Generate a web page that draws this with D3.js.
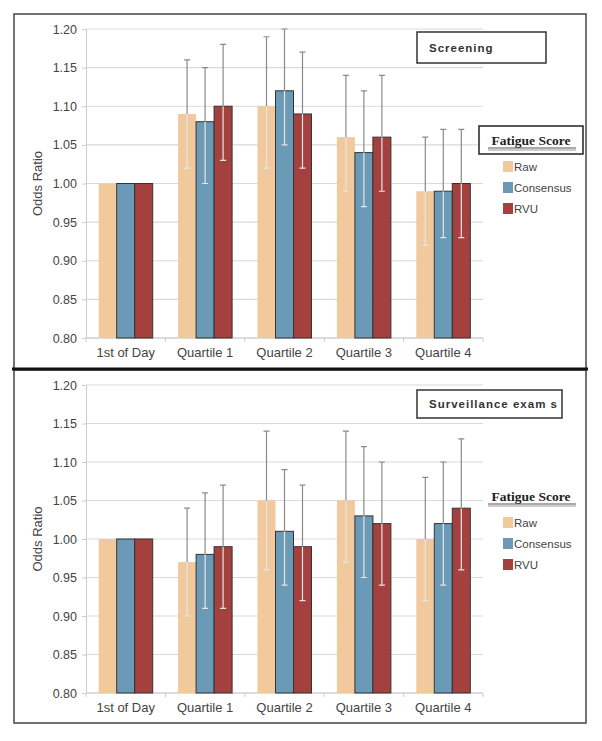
<!DOCTYPE html>
<html>
<head>
<meta charset="utf-8">
<title>Odds ratio by fatigue score</title>
<script src="https://d3js.org/d3.v7.min.js"></script>
<style>
  body { margin: 0; background: #fff; }
  svg { font-family: "Liberation Sans", Arial, sans-serif; }
</style>
</head>
<body>
<svg id="chart" width="602" height="741"></svg>
<script>
// categories and series
var categories = ["1st of Day", "Quartile 1", "Quartile 2", "Quartile 3", "Quartile 4"];
var seriesNames = ["Raw", "Consensus", "RVU"];
var seriesColors = ["#f1c99d", "#6b9ab6", "#a4413f"];
var yTicks = [0.80, 0.85, 0.90, 0.95, 1.00, 1.05, 1.10, 1.15, 1.20];

// Screening panel
var screenRaw = [1.00, 1.09, 1.10, 1.06, 0.99];
var screenRawLo = [null, 1.02, 1.02, 0.99, 0.92];
var screenRawHi = [null, 1.16, 1.19, 1.14, 1.06];
var screenCons = [1.00, 1.08, 1.12, 1.04, 0.99];
var screenConsLo = [null, 1.00, 1.05, 0.97, 0.93];
var screenConsHi = [null, 1.15, 1.20, 1.12, 1.07];
var screenRvu = [1.00, 1.10, 1.09, 1.06, 1.00];
var screenRvuLo = [null, 1.03, 1.02, 0.99, 0.93];
var screenRvuHi = [null, 1.18, 1.17, 1.14, 1.07];

// Surveillance panel
var survRaw = [1.00, 0.97, 1.05, 1.05, 1.00];
var survRawLo = [null, 0.90, 0.96, 0.97, 0.92];
var survRawHi = [null, 1.04, 1.14, 1.14, 1.08];
var survCons = [1.00, 0.98, 1.01, 1.03, 1.02];
var survConsLo = [null, 0.91, 0.94, 0.95, 0.94];
var survConsHi = [null, 1.06, 1.09, 1.12, 1.10];
var survRvu = [1.00, 0.99, 0.99, 1.02, 1.04];
var survRvuLo = [null, 0.91, 0.92, 0.94, 0.96];
var survRvuHi = [null, 1.07, 1.07, 1.10, 1.13];

var svg = d3.select("#chart");

// panel frames
svg.append("rect").attr("x", 14).attr("y", 14).attr("width", 572).attr("height", 355)
  .attr("fill", "none").attr("stroke", "#444").attr("stroke-width", 1.5);
svg.append("rect").attr("x", 14).attr("y", 370).attr("width", 572).attr("height", 353)
  .attr("fill", "none").attr("stroke", "#444").attr("stroke-width", 1.5);
svg.append("line").attr("x1", 12).attr("x2", 588).attr("y1", 369).attr("y2", 369)
  .attr("stroke", "#111").attr("stroke-width", 3);

function drawPanel(opt) {
  var g = svg.append("g");
  var x = d3.scaleBand().domain(categories).range([86, 483]).paddingInner(0.32).paddingOuter(0.16);
  var xs = d3.scaleBand().domain(seriesNames).range([0, x.bandwidth()]);
  var y = d3.scaleLinear().domain([0.80, 1.20]).range([opt.bottom, opt.top]);

  // gridlines
  g.selectAll(".grid").data(yTicks).join("line")
    .attr("x1", 86).attr("x2", 483)
    .attr("y1", d => y(d)).attr("y2", d => y(d))
    .attr("stroke", "#d9d9d9").attr("stroke-width", 1.2);

  // y axis
  var yAxis = g.append("g").attr("transform", "translate(86,0)")
    .call(d3.axisLeft(y).tickValues(yTicks).tickFormat(d3.format(".2f")).tickSize(4).tickPadding(5));
  yAxis.select(".domain").attr("stroke", "#ccc");
  yAxis.selectAll(".tick line").attr("stroke", "#ccc");
  yAxis.selectAll(".tick text").attr("fill", "#444").style("font-size", "12.5px");

  // x axis
  var bounds = d3.range(categories.length + 1).map(i => 86 + i * (397 / categories.length));
  g.append("line").attr("x1", 86).attr("x2", 483).attr("y1", opt.bottom).attr("y2", opt.bottom)
    .attr("stroke", "#ccc");
  g.selectAll(".xt").data(bounds).join("line")
    .attr("x1", d => d).attr("x2", d => d).attr("y1", opt.bottom).attr("y2", opt.bottom + 4)
    .attr("stroke", "#ccc");
  g.selectAll(".xl").data(categories).join("text")
    .attr("x", d => x(d) + x.bandwidth() / 2).attr("y", opt.bottom + 19)
    .attr("text-anchor", "middle").attr("fill", "#444").style("font-size", "13px")
    .text(d => d);

  g.append("text")
    .attr("transform", "translate(42," + ((opt.top + opt.bottom) / 2) + ") rotate(-90)")
    .attr("text-anchor", "middle").attr("fill", "#444").style("font-size", "13px")
    .text("Odds Ratio");

  // bars
  opt.series.forEach(function (s, si) {
    var rows = categories.map((c, i) => ({ c: c, v: s.v[i], lo: s.lo[i], hi: s.hi[i] }));
    g.selectAll(".bar" + si).data(rows).join("rect")
      .attr("x", d => x(d.c) + xs(seriesNames[si]))
      .attr("y", d => y(d.v))
      .attr("width", xs.bandwidth())
      .attr("height", d => y(0.80) - y(d.v))
      .attr("fill", seriesColors[si])
      .attr("stroke", si === 0 ? "none" : "#333")
      .attr("stroke-width", 1);

    var errs = rows.filter(d => d.lo != null);
    var cx = d => x(d.c) + xs(seriesNames[si]) + xs.bandwidth() / 2;
    // lower part (inside the bar)
    g.selectAll(".elo" + si).data(errs).join("path")
      .attr("d", d => "M" + cx(d) + "," + y(d.v) + "V" + y(d.lo) + "M" + (cx(d) - 3) + "," + y(d.lo) + "H" + (cx(d) + 3))
      .attr("stroke", "#e6e6e6").attr("stroke-width", 1.2).attr("fill", "none");
    // upper part
    g.selectAll(".ehi" + si).data(errs).join("path")
      .attr("d", d => "M" + cx(d) + "," + y(d.v) + "V" + y(d.hi) + "M" + (cx(d) - 3) + "," + y(d.hi) + "H" + (cx(d) + 3))
      .attr("stroke", "#8a8a8a").attr("stroke-width", 1.2).attr("fill", "none");
  });

  // title box
  g.append("rect").attr("x", opt.title.x).attr("y", opt.title.y).attr("width", opt.title.w).attr("height", opt.title.h)
    .attr("fill", "#fff").attr("stroke", "#333").attr("stroke-width", 1.5);
  g.append("text").attr("x", opt.title.x + 12).attr("y", opt.title.y + opt.title.h / 2 + 4)
    .attr("fill", "#333").style("font-size", "11.5px").style("font-weight", "bold")
    .style("letter-spacing", "1px").text(opt.title.text);

  // legend
  var lg = opt.legend;
  if (lg.box) {
    g.append("rect").attr("x", 479).attr("y", lg.y - 15).attr("width", 104).attr("height", 28)
      .attr("fill", "#fff").attr("stroke", "#222").attr("stroke-width", 1.5);
  }
  g.append("text").attr("x", 531).attr("y", lg.y + 4).attr("text-anchor", "middle")
    .style("font-family", "'Liberation Serif', 'Times New Roman', serif")
    .style("font-size", "13.5px").style("font-weight", "bold").attr("fill", "#222")
    .text("Fatigue Score");
  g.append("line").attr("x1", 488).attr("x2", 576).attr("y1", lg.y + 7).attr("y2", lg.y + 7)
    .attr("stroke", "#555").attr("stroke-width", 1);
  g.append("line").attr("x1", 488).attr("x2", 576).attr("y1", lg.y + 9).attr("y2", lg.y + 9)
    .attr("stroke", "#999").attr("stroke-width", 1);
  g.selectAll(".leg").data(seriesNames).join("rect")
    .attr("x", 503).attr("y", (d, i) => lg.y + 20 + i * 21)
    .attr("width", 10).attr("height", 11)
    .attr("fill", (d, i) => seriesColors[i]);
  g.selectAll(".legt").data(seriesNames).join("text")
    .attr("x", 514).attr("y", (d, i) => lg.y + 30 + i * 21)
    .attr("fill", "#444").style("font-size", "11.5px")
    .text(d => d);
}

drawPanel({
  top: 29, bottom: 338,
  series: [
    { v: screenRaw, lo: screenRawLo, hi: screenRawHi },
    { v: screenCons, lo: screenConsLo, hi: screenConsHi },
    { v: screenRvu, lo: screenRvuLo, hi: screenRvuHi }
  ],
  title: { x: 417, y: 32, w: 129, h: 31, text: "Screening" },
  legend: { y: 141, box: true }
});

drawPanel({
  top: 385, bottom: 693,
  series: [
    { v: survRaw, lo: survRawLo, hi: survRawHi },
    { v: survCons, lo: survConsLo, hi: survConsHi },
    { v: survRvu, lo: survRvuLo, hi: survRvuHi }
  ],
  title: { x: 417, y: 390, w: 145, h: 28, text: "Surveillance exam s" },
  legend: { y: 497, box: false }
});
</script>
</body>
</html>
